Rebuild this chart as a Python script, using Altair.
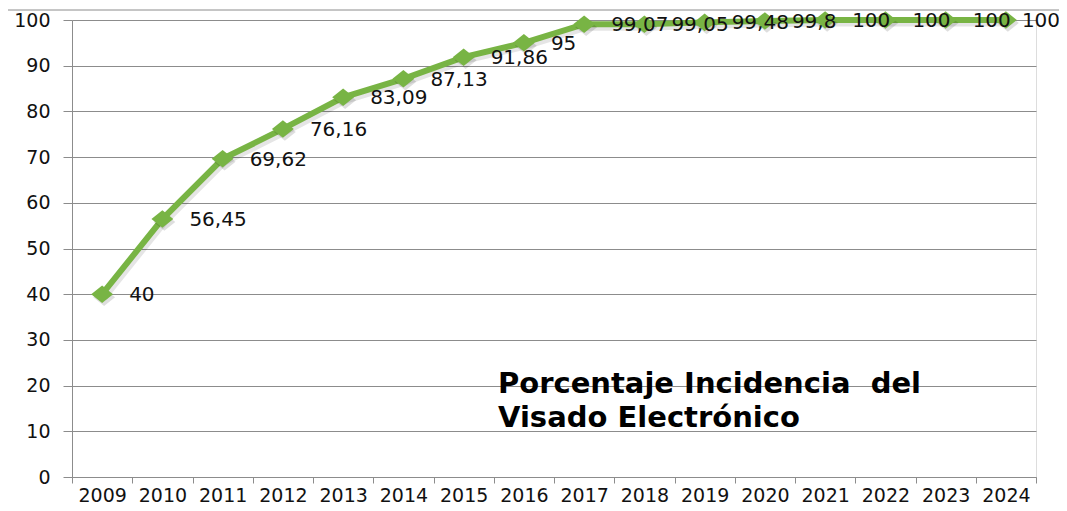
import altair as alt
import pandas as pd

years = [str(y) for y in range(2009, 2025)]
values = [40, 56.45, 69.62, 76.16, 83.09, 87.13, 91.86, 95, 99.07, 99.05, 99.48, 99.8, 100, 100, 100, 100]
labels = [f"{v:g}".replace(".", ",") for v in values]
y_ticks = list(range(0, 101, 10))
title_lines = ["Porcentaje Incidencia\u00a0 del", "Visado Electrónico"]

df = pd.DataFrame({"year": years, "value": values, "label": labels})

GREEN = "#78B444"
FONT = "DejaVu Sans"
W, H = 964, 457

x_enc = alt.X(
    "year:N",
    sort=years,
    bandPosition=0.5,
    scale=alt.Scale(type="band", paddingInner=0, paddingOuter=0),
    axis=alt.Axis(
        title=None, tickBand="extent", grid=False, labelAngle=0,
        domainColor="#8c8c8c", tickColor="#8c8c8c", tickSize=6,
        labelPadding=3, labelFont=FONT, labelFontSize=19, labelColor="#111",
    ),
)
y_enc = alt.Y(
    "value:Q",
    scale=alt.Scale(domain=[0, 100], nice=False, zero=True),
    axis=alt.Axis(
        title=None, values=y_ticks, grid=True, gridColor="#8c8c8c",
        domainColor="#8c8c8c", tickColor="#8c8c8c", tickSize=9,
        labelPadding=13, labelFont=FONT, labelFontSize=19, labelColor="#111",
    ),
)

base = alt.Chart(df)
diamond = "M-1,0L0,-0.8L1,0L0,0.8Z"

shadow_line = base.mark_line(color="#000", opacity=0.10, strokeWidth=7, xOffset=2, yOffset=3).encode(x=x_enc, y=y_enc)
shadow_pts = base.mark_point(shape=diamond, size=480, filled=True, color="#000", opacity=0.13, xOffset=2, yOffset=3).encode(x=x_enc, y=y_enc)
line = base.mark_line(color=GREEN, strokeWidth=6).encode(x=x_enc, y=y_enc)
pts = base.mark_point(shape=diamond, size=480, filled=True, color=GREEN, opacity=1).encode(x=x_enc, y=y_enc)
text = base.transform_filter(alt.datum.year != years[-1]).mark_text(
    align="left", baseline="middle", dx=27, dy=1, font=FONT, fontSize=20, color="#111"
).encode(x=x_enc, y=y_enc, text="label:N")
text_last = base.transform_filter(alt.datum.year == years[-1]).mark_text(
    align="left", baseline="middle", dx=16, dy=1, font=FONT, fontSize=20, color="#111"
).encode(x=x_enc, y=y_enc, text="label:N")

one = pd.DataFrame({"a": [0]})
title1 = alt.Chart(pd.DataFrame({"t": [title_lines[0]]})).mark_text(
    align="left", baseline="middle", font=FONT, fontSize=29, fontWeight="bold", color="#000"
).encode(x=alt.value(426), y=alt.value(364), text="t:N")
title2 = alt.Chart(pd.DataFrame({"t": [title_lines[1]]})).mark_text(
    align="left", baseline="middle", font=FONT, fontSize=29, fontWeight="bold", color="#000"
).encode(x=alt.value(426), y=alt.value(398), text="t:N")

border_left = alt.Chart(one).mark_rule(color="#8c8c8c", strokeWidth=1, clip=False).encode(
    x=alt.value(-65), y=alt.value(-10), y2=alt.value(600)
)
border_top = alt.Chart(one).mark_rule(color="#8c8c8c", strokeWidth=1, clip=False).encode(
    x=alt.value(-65), x2=alt.value(1100), y=alt.value(-10)
)

chart = alt.layer(
    border_left, border_top, shadow_line, line, shadow_pts, pts, text, text_last, title1, title2
).properties(
    width=W, height=H,
    autosize=alt.AutoSizeParams(type="none"),
    padding={"left": 64, "top": 12, "right": 23, "bottom": 28},
).configure_view(stroke=None).configure(background="white")

chart.save("out.html", embed_options={"renderer": "svg", "actions": False})
